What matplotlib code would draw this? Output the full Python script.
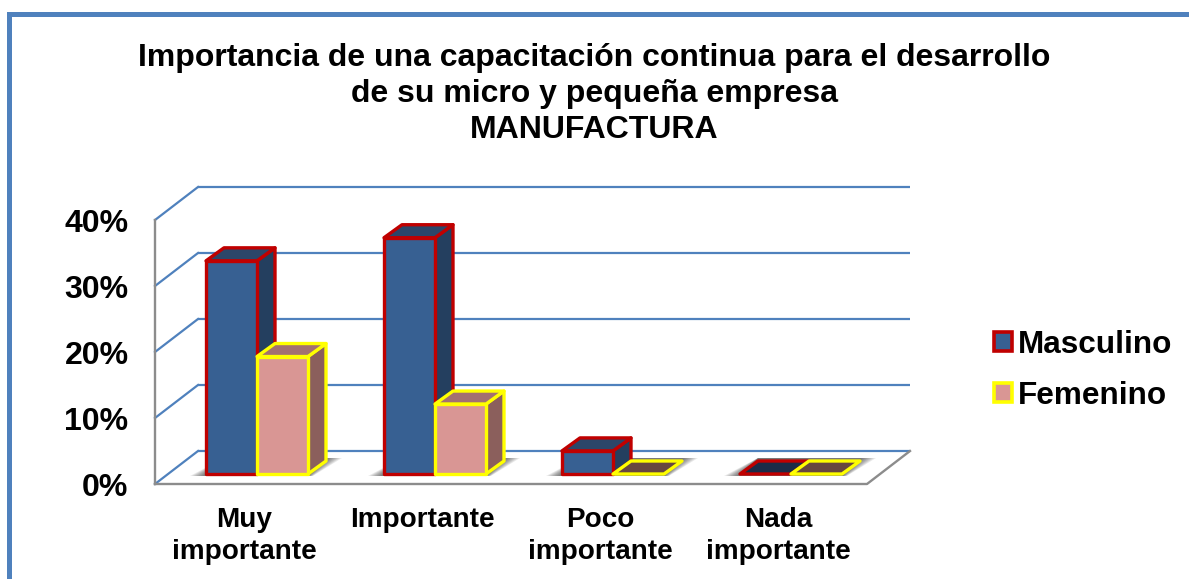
import matplotlib
matplotlib.use("Agg")
import matplotlib.pyplot as plt
from matplotlib.patches import Polygon, Rectangle, Patch
from matplotlib.transforms import Affine2D

plt.rcParams['font.family'] = ['Liberation Sans', 'DejaVu Sans']
plt.rcParams['font.weight'] = 'bold'

title = "Importancia de una capacitación continua para el desarrollo\nde su micro y pequeña empresa\nMANUFACTURA"
categories = ["Muy\nimportante", "Importante", "Poco\nimportante", "Nada\nimportante"]
masculino = [32.3, 35.8, 3.5, 0.0]
femenino = [17.8, 10.6, 0.0, 0.0]
series_names = ["Masculino", "Femenino"]
yticks = [0, 10, 20, 30, 40]
ytick_labels = ["0%", "10%", "20%", "30%", "40%"]

W, H = 1189, 579
fig = plt.figure(figsize=(W / 100, H / 100), dpi=100, facecolor='white')

# page frame
FRAME = '#4f81bd'
fig.add_artist(Rectangle((7 / W, 0), 5 / W, (H - 12) / H, transform=fig.transFigure, fc=FRAME, ec='none'))
fig.add_artist(Rectangle((7 / W, (H - 17) / H), (W - 7) / W, 5 / H, transform=fig.transFigure, fc=FRAME, ec='none'))

# the front plane of the 3-D box is the axes itself
ax = fig.add_axes([155 / W, (H - 484) / H, 712 / W, 264 / H])
ax.set_xlim(-0.5, 3.5)
ax.set_ylim(0, 40)
ax.patch.set_visible(False)
for s in ax.spines.values():
    s.set_visible(False)


def shift(dx, dy):
    return ax.transData + Affine2D().translate(dx, dy)


BACK = (43, 33)
GRID = '#4f81bd'
GRAY = '#8c8c8c'
back = shift(*BACK)
XL, XR = ax.get_xlim()
inv = ax.transData.inverted()

# gridlines: back wall and left wall
for v in yticks:
    ax.plot([XL, XR], [v, v], color=GRID, lw=1.6, transform=back, clip_on=False, zorder=1, solid_capstyle='butt')
    x0, y0 = ax.transData.transform((XL, v))
    xb, yb = inv.transform((x0 + BACK[0], y0 + BACK[1]))
    ax.plot([XL, xb], [v, yb], color=GRID, lw=1.6, clip_on=False, zorder=1)

# axis lines
x_r, y_r = ax.transData.transform((XR, 0))
xb, yb = inv.transform((x_r + BACK[0], y_r + BACK[1]))
ax.plot([XL, XL], [0, 40], color=GRAY, lw=1.7, clip_on=False, zorder=2)
ax.plot([XL, XR, xb], [0, 0, yb], color=GRAY, lw=1.7, clip_on=False, zorder=2)

BAR_W = 51 / 178
OFF = (13, 10)
DEPTH = (18, 13)


def to_data(x, v, dx, dy):
    px, py = ax.transData.transform((x, v))
    return inv.transform((px + dx, py + dy))


def shadow(x1, x2):
    n = 8
    for k in range(n):
        g = 16 * (1 - k / n)
        pts = [to_data(x1, 0, OFF[0] - g, OFF[1] - 2),
               to_data(x2, 0, OFF[0] + g * 0.3, OFF[1] - 2),
               to_data(x2, 0, OFF[0] + DEPTH[0] + g, OFF[1] + DEPTH[1] + 3),
               to_data(x1, 0, OFF[0] + DEPTH[0], OFF[1] + DEPTH[1] + 3)]
        ax.add_patch(Polygon(pts, closed=True, fc='black', ec='none', alpha=0.085,
                             clip_on=False, zorder=3))


def bar3d(x1, x2, v, front_c, side_c, top_c, edge, z):
    lw = 2.4
    kw = dict(closed=True, ec=edge, lw=lw, joinstyle='round', clip_on=False, zorder=z)
    dx, dy = OFF
    ddx, ddy = DEPTH
    side = [to_data(x2, 0, dx, dy), to_data(x2, v, dx, dy),
            to_data(x2, v, dx + ddx, dy + ddy), to_data(x2, 0, dx + ddx, dy + ddy)]
    top = [to_data(x1, v, dx, dy), to_data(x2, v, dx, dy),
           to_data(x2, v, dx + ddx, dy + ddy), to_data(x1, v, dx + ddx, dy + ddy)]
    if v > 0:
        ax.add_patch(Polygon(side, fc=side_c, **kw))
    ax.add_patch(Polygon(top, fc=top_c, **kw))
    if v > 0:
        ax.add_patch(Polygon([to_data(x1, 0, dx, dy), to_data(x2, 0, dx, dy),
                              to_data(x2, v, dx, dy), to_data(x1, v, dx, dy)], fc=front_c, **kw))


for i in range(len(categories)):
    shadow(i - BAR_W, i + BAR_W)

for i, (m, f) in enumerate(zip(masculino, femenino)):
    z = 5 + i
    bar3d(i - BAR_W, i, m, '#376092', '#243f5f', '#2c4669' if m > 0 else '#1b2c48', '#c00000', z)
    bar3d(i, i + BAR_W, f, '#d99694', '#8b5f5c', '#a37070' if f > 0 else '#68483f', '#ffff00', z + 0.5)

ax.set_xticks(range(len(categories)))
ax.set_xticklabels(categories, fontsize=20.1, fontweight='bold', linespacing=1.3, va='top')
ax.set_yticks(yticks)
ax.set_yticklabels(ytick_labels, fontsize=23, fontweight='bold')
ax.tick_params(axis='x', length=0, pad=16.5)
ax.tick_params(axis='y', length=0, pad=19)

fig.text(594.5 / W, (H - 94) / H, title, ha='center', va='center', fontsize=23, fontweight='bold',
         linespacing=1.28, color='black')

handles = [Patch(fc='#376092', ec='#c00000', lw=2.6), Patch(fc='#d99694', ec='#ffff00', lw=2.6)]
leg = fig.legend(handles, series_names, loc='center left', bbox_to_anchor=(985 / W, (H - 370.5) / H),
                 bbox_transform=fig.transFigure, frameon=False, fontsize=22.7, handlelength=0.55,
                 handleheight=0.55, handletextpad=0.2, labelspacing=0.67, borderpad=0, borderaxespad=0.3)

fig.savefig('out.png', dpi=100, facecolor='white')
